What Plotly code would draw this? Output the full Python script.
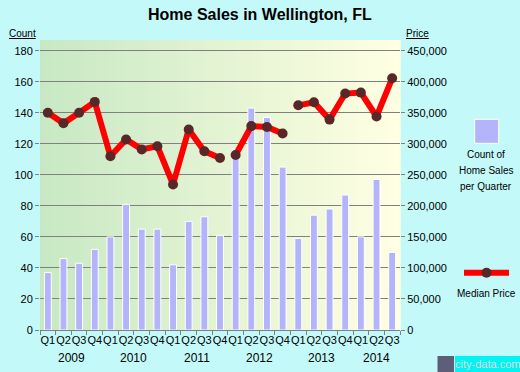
import plotly.graph_objects as go

# ---------------- data ----------------
quarters = ["Q1", "Q2", "Q3", "Q4"] * 5 + ["Q1", "Q2", "Q3"]
years = [2009] * 4 + [2010] * 4 + [2011] * 4 + [2012] * 4 + [2013] * 4 + [2014] * 3
sales_count = [37, 46, 43, 52, 60, 81, 65, 65, 42, 70, 73, 61,
               116, 143, 137, 105, 59, 74, 78, 87, 60, 97, 50]
median_price = [350000, 333000, 350000, 367500, 280000, 307000, 291000, 296000,
                234500, 323000, 288000, 277000, 282000, 328500, 327000, 316500,
                362000, 367000, 339000, 381000, 382500, 344000, 405500]
segment_starts = [0, 12, 16]          # the median-price line is broken before these quarters
count_ticks = [0, 20, 40, 60, 80, 100, 120, 140, 160, 180]
price_ticks = [0, 50000, 100000, 150000, 200000, 250000, 300000, 350000, 400000, 450000]

# ---------------- layout geometry ----------------
W, H = 520, 372
L, R, T, B = 40, 120, 40, 42
PW, PH = W - L - R, H - T - B
FONT = "Liberation Sans, Arial, sans-serif"


def pxx(x):
    return (x - L) / PW


def pxy(y):
    return (H - B - y) / PH


idx = list(range(len(sales_count)))
count_top = 186.9
price_top = count_top * 2500

fig = go.Figure()

fig.add_trace(go.Bar(
    x=idx, y=sales_count, width=0.44,
    marker=dict(color="#b4b4fa", line=dict(color="#ffffff", width=1)),
    yaxis="y", showlegend=False, hoverinfo="skip"))

bounds = segment_starts + [len(median_price)]
for s, e in zip(bounds[:-1], bounds[1:]):
    fig.add_trace(go.Scatter(
        x=idx[s:e], y=median_price[s:e], mode="lines",
        line=dict(color="#ff0000", width=6), yaxis="y2",
        showlegend=False, hoverinfo="skip"))
fig.add_trace(go.Scatter(
    x=idx, y=median_price, mode="markers",
    marker=dict(color="#582828", size=10), yaxis="y2",
    showlegend=False, hoverinfo="skip"))

# background gradient (green -> light yellow)
shapes = []
n = 72
c0 = (200, 232, 196)
c1 = (255, 255, 226)
for i in range(n):
    t = i / (n - 1)
    c = tuple(round(a + (b - a) * t) for a, b in zip(c0, c1))
    shapes.append(dict(type="rect", xref="paper", yref="paper",
                       x0=i / n, x1=(i + 1) / n + 0.002, y0=0, y1=1,
                       fillcolor="rgb(%d,%d,%d)" % c, line=dict(width=0), layer="below"))

# legend: count of home sales
shapes.append(dict(type="rect", xref="paper", yref="paper",
                   x0=pxx(474.7), x1=pxx(498.7), y0=pxy(143.3), y1=pxy(119.3),
                   fillcolor="#b4b4fa", line=dict(color="#ffffff", width=1)))
# legend: median price
shapes.append(dict(type="line", xref="paper", yref="paper",
                   x0=pxx(464), x1=pxx(509), y0=pxy(272.7), y1=pxy(272.7),
                   line=dict(color="#ff0000", width=6)))
shapes.append(dict(type="circle", xref="paper", yref="paper",
                   x0=pxx(481.5), x1=pxx(491.5), y0=pxy(277.7), y1=pxy(267.7),
                   fillcolor="#582828", line=dict(width=0)))
# watermark
shapes.append(dict(type="rect", xref="paper", yref="paper",
                   x0=pxx(437.5), x1=pxx(454), y0=pxy(372), y1=pxy(356),
                   fillcolor="#5e5e78", line=dict(width=0)))
shapes.append(dict(type="rect", xref="paper", yref="paper",
                   x0=pxx(455), x1=pxx(520), y0=pxy(372), y1=pxy(356),
                   fillcolor="#00f4f4", line=dict(width=0)))

annotations = []


def note(text, x, y, size=11, bold=False, color="#000000", xanchor="center"):
    annotations.append(dict(
        text=("<b>%s</b>" % text) if bold else text,
        xref="paper", yref="paper", x=pxx(x), y=pxy(y),
        xanchor=xanchor, yanchor="middle", showarrow=False,
        font=dict(family=FONT, size=size, color=color)))


note("Home Sales in Wellington, FL", 260, 15, size=16, bold=True)
note("<u>Count</u>", 22.5, 34, size=10)
note("<u>Price</u>", 417.5, 34, size=10)
note("Count of", 486, 154, size=10)
note("Home Sales", 486, 170, size=10)
note("per Quarter", 486, 186, size=10)
note("Median Price", 486, 293, size=10)
note("city-data.com", 487.5, 364, size=11, color="#dcdcdc")

# year labels centred under their quarters
for yr in sorted(set(years)):
    pos = [i for i, v in zip(idx, years) if v == yr]
    annotations.append(dict(
        text=str(yr), xref="x", yref="paper", x=sum(pos) / len(pos), y=pxy(358),
        xanchor="center", yanchor="middle", showarrow=False,
        font=dict(family=FONT, size=12, color="#000000")))

fig.update_layout(
    width=W, height=H,
    margin=dict(l=L, r=R, t=T, b=B, pad=0),
    paper_bgcolor="#c4f9f9",
    plot_bgcolor="rgba(0,0,0,0)",
    showlegend=False,
    bargap=0,
    shapes=shapes,
    annotations=annotations,
    font=dict(family=FONT, size=11, color="#000000"),
    xaxis=dict(
        range=[-0.5, len(idx) - 0.5],
        tickmode="array", tickvals=idx, ticktext=quarters,
        tickangle=0,
        ticks="", ticklen=0, showgrid=False, zeroline=False,
        showline=True, linecolor="#808080", linewidth=1,
        tickfont=dict(family=FONT, size=11, color="#000000"),
        minor=dict(ticks="outside", ticklen=4, tickcolor="#808080",
                   tick0=-0.5, dtick=1, showgrid=False),
        fixedrange=True),
    yaxis=dict(
        range=[0, count_top], tickmode="array", tickvals=count_ticks,
        ticks="outside", ticklen=4, tickcolor="#808080",
        showgrid=True, gridcolor="#808080", gridwidth=1,
        zeroline=False, showline=False,
        tickfont=dict(family=FONT, size=11, color="#000000")),
    yaxis2=dict(
        range=[0, price_top], overlaying="y", side="right",
        tickmode="array", tickvals=price_ticks,
        tickprefix="$", tickformat=",d",
        ticks="outside", ticklen=4, tickcolor="#808080",
        showgrid=False, zeroline=False, showline=False,
        tickfont=dict(family=FONT, size=11, color="#000000")),
)

fig.write_html(
    "out.html",
    config={"displayModeBar": False, "staticPlot": True},
    post_script="document.body.style.margin='0';document.body.style.padding='0';"
                "document.body.style.overflow='hidden';")
